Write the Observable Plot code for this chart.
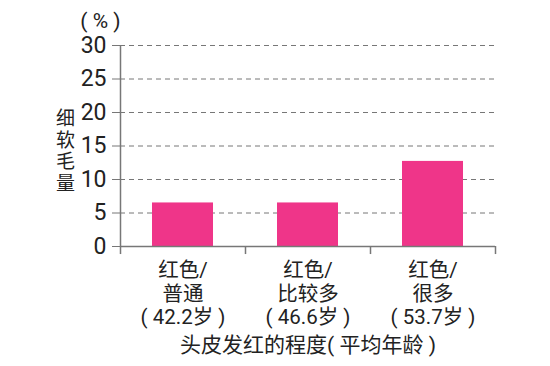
<!DOCTYPE html>
<html><head><meta charset="utf-8">
<script src="https://cdn.jsdelivr.net/npm/d3@7"></script>
<script src="https://cdn.jsdelivr.net/npm/@observablehq/plot@0.6"></script>
<style>
body{margin:0;background:#fff;}
</style></head>
<body><div id="chart"></div>
<script>
const categories = ["红色/\n普通\n( 42.2岁 )", "红色/\n比较多\n( 46.6岁 )", "红色/\n很多\n( 53.7岁 )"];
const values = [6.5, 6.5, 12.7];
const yTicks = [0, 5, 10, 15, 20, 25, 30];
const gridTicks = [5, 10, 15, 20, 25, 30];
const xTitle = "头皮发红的程度( 平均年龄 )";
const yTitle = "细\n软\n毛\n量";
const unitLabel = "( % )";

const data = categories.map((c, i) => ({cat: c, v: values[i]}));
const W = 550, H = 366, mL = 120, mR = 55, mT = 45, mB = 120;
const step = (W - mL - mR) / categories.length;
const axisColor = "#777";
const textColor = "#222";

const chart = Plot.plot({
  width: W, height: H,
  marginLeft: mL, marginRight: mR, marginTop: mT, marginBottom: mB,
  style: {fontFamily: '"Roboto","Noto Sans CJK SC",sans-serif', color: textColor, background: "#fff"},
  x: {domain: categories, paddingInner: 0.51, paddingOuter: 0.255, axis: null},
  y: {domain: [0, 30], axis: null},
  marks: [
    Plot.gridY(gridTicks, {stroke: axisColor, strokeOpacity: 1, strokeDasharray: "5,4", strokeWidth: 1}),
    Plot.barY(data, {x: "cat", y: "v", fill: "#ef3589"}),
    Plot.axisY(yTicks, {tickSize: 8, tickPadding: 6, stroke: axisColor, fill: textColor, fontSize: 23, label: null}),
    Plot.ruleY([0], {stroke: axisColor, strokeWidth: 1.5}),
    Plot.ruleX([categories[0]], {dx: -step / 2, y1: 30, y2: -1.2, stroke: axisColor, strokeWidth: 1.5}),
    Plot.ruleX(categories, {dx: step / 2, y1: 0, y2: -1.2, stroke: axisColor, strokeWidth: 1.5}),
    Plot.text(data, {x: "cat", y: 0, text: "cat", lineAnchor: "top", dy: 14, fontSize: 20.5, lineHeight: 1.15, fill: textColor}),
    Plot.text([xTitle], {frameAnchor: "bottom", lineAnchor: "middle", textAnchor: "middle", dy: 99, fontSize: 21, fill: textColor}),
    Plot.text([yTitle], {frameAnchor: "left", textAnchor: "middle", lineAnchor: "middle", dx: -55, dy: 4.5, fontSize: 19, lineHeight: 1.13, fill: textColor}),
    Plot.text([unitLabel], {frameAnchor: "top-left", textAnchor: "middle", lineAnchor: "middle", dx: -20, dy: -24, fontSize: 21, fill: textColor})
  ]
});
document.getElementById("chart").appendChild(chart);
</script></body></html>
